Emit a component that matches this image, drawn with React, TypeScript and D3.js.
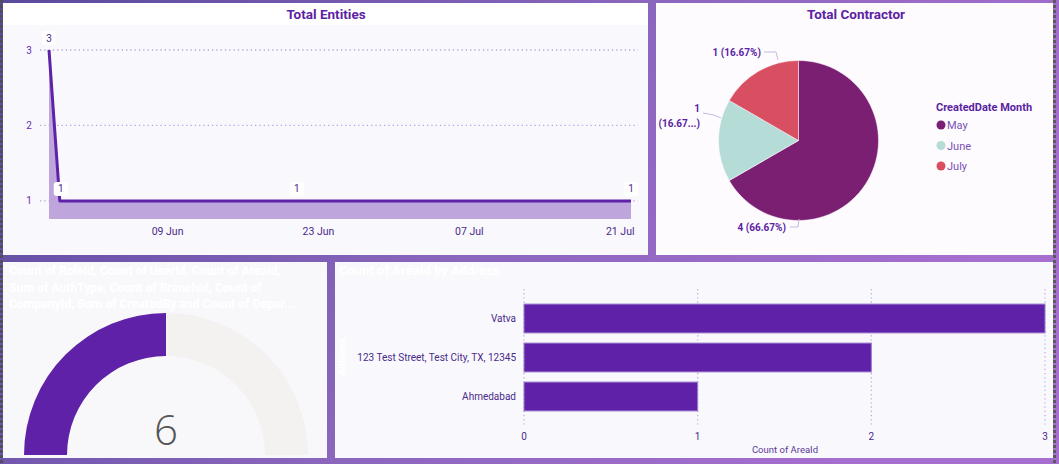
import * as d3 from 'd3';

// Total Entities (line/area)
const entityDates = ['2024-05-29', '2024-05-30', '2024-06-21', '2024-07-22'];
const entityCounts = [3, 1, 1, 1];
const entityTickDates = ['2024-06-09', '2024-06-23', '2024-07-07', '2024-07-21'];
const entityYTicks = [1, 2, 3];

// Total Contractor (pie)
const months = ['May', 'June', 'July'];
const contractorCounts = [4, 1, 1];
const monthColors = ['#7b1f73', '#b6dcd8', '#d94f62'];

// Gauge
const gaugeValue = 6;
const gaugeMax = 12;
const gaugeTitle = [
  'Count of RoleId, Count of UserId, Count of AreaId,',
  'Sum of AuthType, Count of BranchId, Count of',
  'CompanyId, Sum of CreatedBy and Count of Depar...',
];

// Count of AreaId by Address (bar)
const addresses = ['Vatva', '123 Test Street, Test City, TX, 12345', 'Ahmedabad'];
const areaCounts = [3, 2, 1];
const areaTicks = [0, 1, 2, 3];

const PURPLE = '#5f21a8';
const TEXT_PURPLE = '#5b23a3';
const NARROW = '"Liberation Sans Narrow", "Roboto", sans-serif';
const BOLD = 'Roboto, "Noto Sans", sans-serif';

const parse = d3.timeParse('%Y-%m-%d');

function LineChart() {
  const pts = entityDates.map((d, i) => ({ date: parse(d)!, count: entityCounts[i] }));
  const x = d3
    .scaleTime()
    .domain([pts[0].date, pts[pts.length - 1].date])
    .range([49, 631]);
  const y = d3.scaleLinear().domain([0.76, 3]).range([219, 50]);

  const area = d3
    .area<{ date: Date; count: number }>()
    .x((d) => x(d.date))
    .y0(y(0.76))
    .y1((d) => y(d.count));
  const line = d3
    .line<{ date: Date; count: number }>()
    .x((d) => x(d.date))
    .y((d) => y(d.count));
  const fmt = d3.timeFormat('%d %b');

  return (
    <g>
      <rect x={3} y={3} width={645} height={252} fill="#f9f8fc" />
      <rect x={3} y={3} width={645} height={22} fill="#ffffff" />
      <text x={326} y={19} textAnchor="middle" fontFamily={BOLD} fontWeight={700} fontSize={13.5} fill={TEXT_PURPLE}>
        Total Entities
      </text>
      {entityYTicks.map((t) => (
        <g key={t}>
          <line x1={40} x2={638} y1={y(t)} y2={y(t)} stroke="#b9a2de" strokeWidth={1.3} strokeDasharray="1.3,3" />
          <text x={29} y={y(t) + 3.5} textAnchor="middle" fontFamily={NARROW} fontSize={10} fill="#6a2cb3">
            {t}
          </text>
        </g>
      ))}
      <path d={area(pts)!} fill="#bea5dc" />
      <path d={line(pts)!} fill="none" stroke={PURPLE} strokeWidth={3} strokeLinejoin="round" />
      {entityTickDates.map((d) => {
        const dt = parse(d)!;
        return (
          <text key={d} x={x(dt)} y={235} textAnchor="middle" fontFamily={NARROW} fontSize={10.5} fill="#4a2a8a">
            {fmt(dt)}
          </text>
        );
      })}
      {pts.map((p, i) => {
        const lx = i === 1 ? x(p.date) + 1 : x(p.date);
        const ly = y(p.count) - 12;
        return (
          <g key={i}>
            <rect x={lx - 7} y={ly - 7} width={14} height={14} rx={3} fill="#ffffff" />
            <text x={lx} y={ly + 3.5} textAnchor="middle" fontFamily={NARROW} fontSize={10} fill="#4a2a8a">
              {p.count}
            </text>
          </g>
        );
      })}
    </g>
  );
}

function PieChart() {
  const cx = 798.5;
  const cy = 140.5;
  const r = 80;
  const pie = d3.pie<number>().sort(null).value((d) => d);
  const arcs = pie(contractorCounts);
  const arc = d3.arc<d3.PieArcDatum<number>>().innerRadius(0).outerRadius(r);
  const total = d3.sum(contractorCounts);
  const pct = (v: number) => `${v} (${((v / total) * 100).toFixed(2)}%)`;
  const lead = '#c9b9e3';

  return (
    <g>
      <rect x={656} y={3} width={397} height={252} fill="#fdfbfe" />
      <text x={856} y={19} textAnchor="middle" fontFamily={BOLD} fontWeight={700} fontSize={13.5} fill={TEXT_PURPLE}>
        Total Contractor
      </text>
      <g transform={`translate(${cx},${cy})`}>
        {arcs.map((a, i) => (
          <path key={i} d={arc(a)!} fill={monthColors[i]} stroke="#fdfbfe" strokeWidth={0.5} />
        ))}
      </g>
      {/* leader lines */}
      <polyline points="764,52 776,52 778,60" fill="none" stroke={lead} strokeWidth={1} />
      <polyline points="703,113 714,115 721,118" fill="none" stroke={lead} strokeWidth={1} />
      <polyline points="790,227 798,227 799,219" fill="none" stroke={lead} strokeWidth={1} />
      <g fontFamily={BOLD} fontWeight={700} fontSize={10} fill={TEXT_PURPLE}>
        <text x={761} y={56} textAnchor="end">{pct(contractorCounts[2])}</text>
        <text x={700} y={112} textAnchor="end">{contractorCounts[1]}</text>
        <text x={700} y={127} textAnchor="end">(16.67...)</text>
        <text x={786} y={231} textAnchor="end">{pct(contractorCounts[0])}</text>
      </g>
      <text x={936} y={111} fontFamily={BOLD} fontWeight={700} fontSize={11} fill={TEXT_PURPLE}>
        CreatedDate Month
      </text>
      {months.map((m, i) => (
        <g key={m}>
          <circle cx={941} cy={125 + i * 20.5} r={4.5} fill={monthColors[i]} />
          <text x={947} y={129 + i * 20.5} fontFamily={BOLD} fontSize={11} fill="#7a52b5">
            {m}
          </text>
        </g>
      ))}
    </g>
  );
}

function Gauge() {
  const cx = 166;
  const cy = 455;
  const scale = d3.scaleLinear().domain([0, gaugeMax]).range([-Math.PI / 2, Math.PI / 2]);
  const arc = d3.arc<{ s: number; e: number }>()
    .innerRadius(99)
    .outerRadius(142)
    .startAngle((d) => d.s)
    .endAngle((d) => d.e);
  return (
    <g>
      <rect x={3} y={262} width={324} height={196} fill="#f8f8fb" />
      <g fontFamily={BOLD} fontWeight={700} fontSize={12.2} fill="#ffffff">
        {gaugeTitle.map((t, i) => (
          <text key={i} x={9} y={275 + i * 16.5}>{t}</text>
        ))}
      </g>
      <g transform={`translate(${cx},${cy})`}>
        <path d={arc({ s: scale(0), e: scale(gaugeMax) })!} fill="#f3f2f1" />
        <path d={arc({ s: scale(0), e: scale(gaugeValue) })!} fill={PURPLE} />
      </g>
      <text x={cx} y={445} textAnchor="middle" fontFamily='"Open Sans", Lato, sans-serif' fontWeight={300} fontSize={42} fill="#555555">
        {gaugeValue}
      </text>
    </g>
  );
}

function BarChart() {
  const x = d3.scaleLinear().domain([0, 3]).range([524, 1045]);
  const y = d3.scaleBand().domain(addresses).range([299, 416]).paddingInner(0.26).paddingOuter(0.13);
  return (
    <g>
      <rect x={335} y={262} width={718} height={196} fill="#f9f8fc" />
      <text x={339} y={275} fontFamily={BOLD} fontWeight={700} fontSize={13} fill="#ffffff">
        Count of AreaId by Address
      </text>
      <text transform="translate(346,357) rotate(-90)" textAnchor="middle" fontFamily={BOLD} fontWeight={700} fontSize={10} fill="#ffffff">
        Address
      </text>
      {areaTicks.map((t) => (
        <g key={t}>
          <line x1={x(t)} x2={x(t)} y1={289} y2={426} stroke="#b9a2de" strokeWidth={1.2} strokeDasharray="1.2,3" />
          <text x={x(t)} y={440} textAnchor="middle" fontFamily={NARROW} fontSize={10} fill="#4a2a8a">
            {t}
          </text>
        </g>
      ))}
      {addresses.map((a, i) => (
        <g key={a}>
          <rect
            x={x(0)}
            y={y(a)!}
            width={x(areaCounts[i]) - x(0)}
            height={y.bandwidth()}
            fill={PURPLE}
            stroke="#9b80cf"
            strokeWidth={1}
          />
          <text x={516} y={y(a)! + y.bandwidth() / 2 + 3.5} textAnchor="end" fontFamily={NARROW} fontSize={10} fill="#4a2a8a">
            {a}
          </text>
        </g>
      ))}
      <text x={785} y={453} textAnchor="middle" fontFamily={NARROW} fontSize={9.5} fill="#5b3a9a">
        Count of AreaId
      </text>
    </g>
  );
}

export default function App() {
  return (
    <div style={{ position: 'fixed', left: 0, top: 0 }}>
      <svg width={1059} height={464} style={{ display: 'block' }}>
        <defs>
          <linearGradient id="bg" x1="0" y1="0" x2="1" y2="0.3">
            <stop offset="0" stopColor="#5a4a9c" />
            <stop offset="0.55" stopColor="#8a66bd" />
            <stop offset="1" stopColor="#a66ecf" />
          </linearGradient>
        </defs>
        <rect width={1059} height={464} fill="url(#bg)" />
        <line x1={1.5} x2={1.5} y1={0} y2={464} stroke="#4e4e5e" strokeWidth={3} strokeDasharray="3,2" />
        <line x1={1054.5} x2={1054.5} y1={0} y2={464} stroke="#5c5a60" strokeWidth={3} strokeDasharray="3,2" />
        <LineChart />
        <PieChart />
        <Gauge />
        <BarChart />
      </svg>
    </div>
  );
}
